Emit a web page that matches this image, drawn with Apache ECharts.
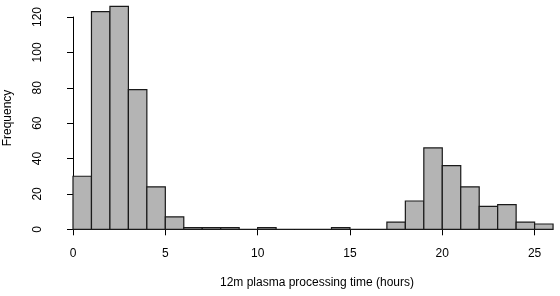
<!DOCTYPE html>
<html>
<head>
<meta charset="utf-8">
<script src="https://cdn.jsdelivr.net/npm/echarts@6/dist/echarts.min.js"></script>
<style>
  html, body { margin: 0; padding: 0; background: #fff; }
  #chart { width: 560px; height: 296px; }
</style>
</head>
<body>
<div id="chart"></div>
<script>
// histogram bins, width 1 hour, starting at 0
const binStarts = [0, 1, 2, 3, 4, 5, 6, 7, 8, 9, 10, 11, 12, 13, 14, 15, 16, 17, 18, 19, 20, 21, 22, 23, 24, 25]
const counts = [30, 123, 126, 79, 24, 7, 1, 1, 1, 0, 1, 0, 0, 0, 1, 0, 0, 4, 16, 46, 36, 24, 13, 14, 4, 3]
const binWidth = 1
const xTicks = [0, 5, 10, 15, 20, 25]
const yTicks = [0, 20, 40, 60, 80, 100, 120]

const xLabel = '12m plasma processing time (hours)'
const yLabel = 'Frequency'

const chart = echarts.init(document.getElementById('chart'))
const font = '"Liberation Sans", Arial, Helvetica, sans-serif'

chart.setOption({
  animation: false,
  grid: { left: 73, right: 25.4, top: 17, bottom: 66.7 },
  xAxis: {
    type: 'value',
    min: xTicks[0],
    max: xTicks[xTicks.length - 1],
    interval: 5,
    offset: 9,
    splitLine: { show: false },
    axisLine: { lineStyle: { color: '#000', width: 1 } },
    axisTick: { length: 6, lineStyle: { color: '#000' } },
    axisLabel: { margin: 9, color: '#000', fontSize: 12, fontFamily: font }
  },
  yAxis: {
    type: 'value',
    min: yTicks[0],
    max: yTicks[yTicks.length - 1],
    interval: 20,
    offset: 20,
    splitLine: { show: false },
    axisLine: { show: true, lineStyle: { color: '#000', width: 1 } },
    axisTick: { show: true, length: 6, lineStyle: { color: '#000' } },
    axisLabel: { rotate: 90, margin: 9, color: '#000', fontSize: 12, fontFamily: font }
  },
  graphic: [
    {
      type: 'text', x: 317, y: 283,
      style: { text: xLabel, fill: '#000', font: '12px ' + font, align: 'center', verticalAlign: 'middle' }
    },
    {
      type: 'text', x: 8, y: 118, rotation: Math.PI / 2,
      style: { text: yLabel, fill: '#000', font: '12px ' + font, align: 'center', verticalAlign: 'middle' }
    }
  ],
  series: [
    {
      type: 'custom',
      clip: false,
      data: binStarts.map((s, i) => [s, counts[i]]),
      renderItem(params, api) {
        const p0 = api.coord([api.value(0), 0])
        const p1 = api.coord([api.value(0) + binWidth, api.value(1)])
        return {
          type: 'rect',
          shape: { x: p0[0], y: p1[1], width: p1[0] - p0[0], height: p0[1] - p1[1] },
          style: { fill: '#b4b4b4', stroke: '#1a1a1a', lineWidth: 1.2 }
        }
      }
    }
  ]
})
</script>
</body>
</html>
